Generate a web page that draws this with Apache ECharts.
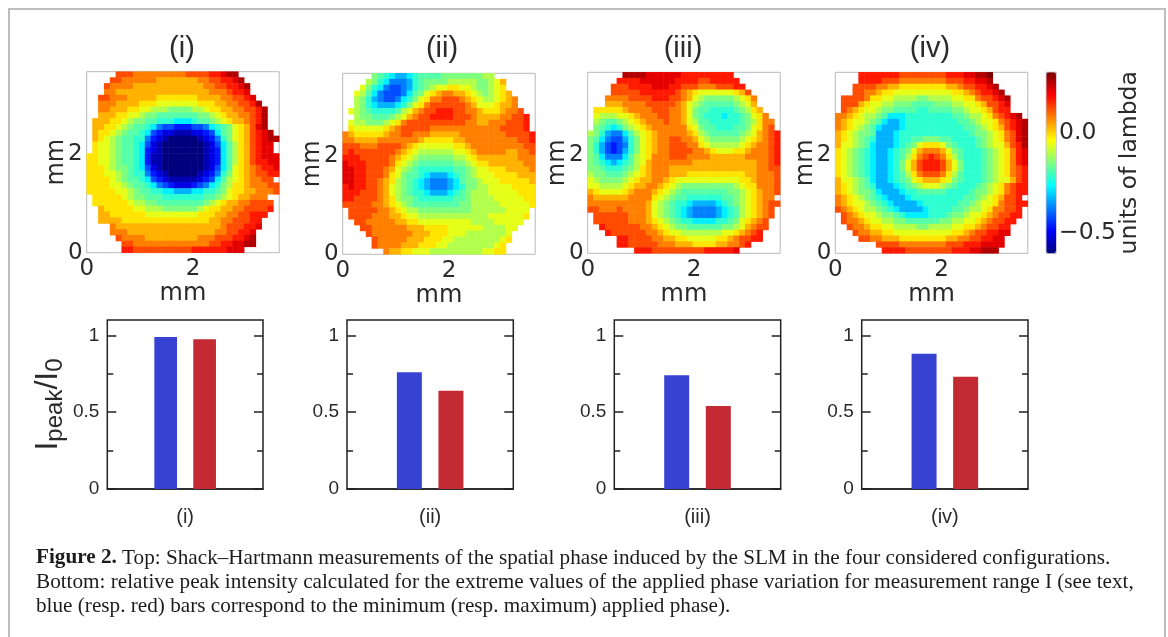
<!DOCTYPE html>
<html>
<head>
<meta charset="utf-8">
<script src="https://cdn.jsdelivr.net/npm/echarts@6/dist/echarts.min.js"></script>
<style>
html,body{margin:0;padding:0;background:#fff}
#c{width:1168px;height:637px;filter:blur(0.6px)}
</style>
</head>
<body>
<div id="c"></div>
<script>
// '.' = no measurement; 0-9,a-k = index into phaseLevels (top row first).
const phaseI = [
".....gggfffffffffgggghhijj.......",
"....ggffffffeeeeeeeffgghhij......",
"...gffffeeeeeeeeeeeeffgghhij.....",
"...ffeeeeeeeeeeeeeeeefffghhi.....",
"..ggfffeeeeedddddddeeeeffgghi....",
"..fffeeeedddcccccccdddeeffgghj...",
"..ffeeeddccbbbaaaabbcddeeffgghj..",
"..eeeddccbaa9999999aabcdeeffghj..",
".eeeddcbaa99888777899abcdeefghj..",
".eeddcba9987544333445789acdegij..",
".eddcba99874322111223479acdeghij.",
".edcba998853210000012358acdeghijj",
".dccba9987421000000012479bdeghii.",
".dccba9987321000000012379bdeghii.",
"ddccba9987311000000012379bdeghiii",
"ddccba9987311000000012379bdeghhii",
"dddcbaa987421000000012479cdefghhi",
"dddccba98853210000012358acdefgghh",
"ddddcba99874321111123479bcdeffgg.",
"ddddccba998754322234578abddefffgg",
"dddddccba99887766677889acddeefffg",
".dddddcbaa999888888899abcdeefff..",
".ddddddcbbaa99999999abcdeeffgggg.",
"..edddddccbbbaaaaaabcddeeffggggh.",
"..eeddddddcccccccccdddeeffgghhh..",
"..eeeedddddddddddddddeeffggghh...",
"....feeeeeeeeeeeeeeeeeefggghhi...",
"....fffeeeeeeeeeeeeeeeffgghhi....",
".....gffffeeeeeeeeefffggghhij....",
"......ggfffffffffffffgghhiijj....",
"......hhgggggggggghhhhhhiii......"];
const phaseII = [
".....a98766789999aaaaaaabb.......",
"....ba87555689aaaabbbbbaabce.....",
"...ca875445689abccddccbaabcd.....",
"..cb975444579acdeffeedcbabcde....",
"..ba86544578acdffgggfedcbbcdef...",
"..ba8766678acdfggggggfecccdeef...",
".cba988889bcefgghhhggffedddeffg..",
"..baa999abcefgghhhhgggfeeeeffggh.",
".cbbaaabcdfggggggggggffeefffgggh.",
".dcccccdefgggggffffffffffffggggh.",
"fedddddeffggfffeeeeeffffffffggggh",
"ffeeeefffffffedddddeefffffffffggh",
"gggfffggggfedccccccddefffffffffgg",
"ghgggggggfedcbbbbbbccdefffffeeffg",
"hhhgggggfedcbaaaaaabbcdeeeeeeefff",
"ihhhggggfdcba999999aabcddeeeeeeff",
"iihhgggfecba988888899abccdddeeeef",
"iihhgggfdca9987666789abcccddddeee",
"iihhggfedba9876555679aabcccddddde",
"hihhggfecba9876555678aabbccccdddd",
"hhhgggfecba9887666789abbbcccccddd",
"hhggggfedbaa988888899abbbbcccccdd",
"gggggffedcba99999999aabbbbbcccccd",
".gggggffedcbbaaaaaaaaabbbbbbcccc.",
".ggggfffeedccbbbbbbbbbbbbccccccd.",
"..ggfffffeeddcccccccccbbbbccccc..",
"...ggffffffeeeddddccccccbbbbcc...",
"....gfffffffeeedddcccbbbbbbbc....",
".....gfffffeeedddccbbbbbbbbcd....",
".....gffffeeedddccbbbbbbbbcd.....",
".......feeddcccbbbbbbbbbccdd....."];
const phaseIII = [
"......jjjjiiiiiihhhhhhhhh........",
".....hhhhiiiiiihhhhgghhhhh.......",
"....ggghhhhiiihhgggfffggghh......",
"....ggggghhhhhhgfedccccccdeg.....",
"...ffffgggghhhggfecbaaaaabcdf....",
"...eeeffffgggggfecba99999abce....",
".dddddeffffgggffeca9988889abde...",
".cbbbccdefffggffeca98887889acdf..",
".ba99abcdefffgffecb99888889abdff.",
".a9878abcdeffffffdca9988899acdfg.",
"ba865579bcdefffffedba99999abcefgh",
"a9754468acdeffggffecbaaaaabcdefgh",
"a8643458acdeffgggffdcbbbbbcdeffgh",
"a8643468acdeffggggffedcccddefffgh",
"a9755579bcdfffgggffffeeeeeeffffgh",
"a9876789bcefffffffeeeeeeeeeeeffgh",
"aa98889abdefffeeeeeeeeeeeeeeeffgg",
"baa999abcdefffeeeddddddddddeefffg",
"cbaaaabcdeeffedcccccccccccddefffg",
"ccbbbbcdeeffedcbaaaaaaaaabcddfffg",
"edccccdefffedcba99999999aabcdeffg",
"feeeeeeffffdcba9988888899abcdeff.",
"ffffffffffecba98876666789abcdefgg",
"ggfffgffffecba987655556789bcdefg.",
".ggggggfffecba987655556789bcdefg.",
".ggggggfffedcba9887777889acdefg..",
"..hggggggffedcbaa999999aabcefgg..",
"...hggggggffedccbbbbbbbccdefgh...",
".....hhggggffeeddcccccddefgghh...",
".....hhgggggfffeeeddddeeffgh.....",
"........hhhggggggggghhhhhi......."];
const phaseIV = [
"....hhhhhhhgggggggghhhiijjk......",
"....hhhhgggffffffffggghhiij......",
"...ggggffeeddddddddeefgghhij.....",
"...ggffeddccccccccccddefghhij....",
".ggggfddccbbbbaabbbbccddfgghij...",
".gggedccbbaaa9999aaabbccdegghi...",
".gfedccbaa9999889999aabccdeghh...",
"ffedcbba97778888888899abbcdfghij.",
"fedccba9766788888888899abccdfghij",
"fedcba976667888888888899abcdeghij",
"edcbaa966678888888888889aabcdfgij",
"edcba9866678899aaa9988889abcdfgij",
"eccba97666789acdddca98889abcceghj",
"dcba98766789acefffeca98889abcdfhi",
"dcba98766789bdfghgfdb98889abcdfhi",
"dcba9876678aceghhhgeca8889abcdfhi",
"dcba9876678aceghhhgeca8889abcdfgh",
"dcba98766789bdfgggfdb98889abcdfgh",
"eccba9766789acdeeedca98889abccegh",
"edcba98666789abcccba98889abcdfghh",
"edcbaa976667889999988889aabcdfghh",
"fedcba987666788888888899abcdeggh.",
"fedccba9876666788888899abccdfgghh",
"gfedcbba98766667888899abbcdffggh.",
".gfedccbaa9877778889aabccdefgghh.",
".gffedccbbaa999999aabbccdefgghh..",
"..gffeddccbbbbaabbbbccddefgghh...",
"...gffeeddccccccccccddefgghhii...",
"....ggffeeeddddddddeeffgghhii....",
".......ggggffffffffggghhhiiii....",
"........hhhhgggggggghhhiijjj....."];

// Phase value (units of lambda) for each level character 0-9,a-k
const phaseLevels = [-0.6,-0.555,-0.51,-0.465,-0.42,-0.375,-0.33,-0.276,-0.222,-0.186,-0.15,-0.105,-0.06,-0.015,0.03,0.075,0.12,0.165,0.21,0.255,0.3];

const panelNames = ["(i)", "(ii)", "(iii)", "(iv)"];
const barMinPhase = [0.99, 0.76, 0.74, 0.88];
const barMaxPhase = [0.975, 0.64, 0.54, 0.73];
const barCategories = ["", "min", "max", ""];
const barMajorTicks = [0, 0.5, 1];
const barMinorTicks = [0.25, 0.75];
const mmTicks = [0, 2];
const colorbarTicks = [-0.5, 0];
const caption = [
  "Top: Shack\u2013Hartmann measurements of the spatial phase induced by the SLM in the four considered configurations.",
  "Bottom: relative peak intensity calculated for the extreme values of the applied phase variation for measurement range I (see text,",
  "blue (resp. red) bars correspond to the minimum (resp. maximum) applied phase)."
];
const captionLead = "Figure 2.";

// Scale and layout
const phaseMin = -0.6, phaseMax = 0.3;
const jet = ["#00007f","#0000ff","#007fff","#00ffff","#7fff7f","#ffff00","#ff7f00","#ff0000","#7f0000"];
const phases = [phaseI, phaseII, phaseIII, phaseIV];
const heatBox = [[86.7,71.7],[342.7,73.3],[587.7,72.3],[835.3,72.3]];
const heatW = 192.5, heatH = 181;
const titleX = [182, 442, 683, 930];
const barBox = [[107.3,155.7,22.7],[347,166.3,25],[614.3,166.4,25],[861.7,166.3,25]];
const barTop = 320, barH = 169;
const mplFont = "DejaVu Sans", helv = "Liberation Sans";
const ink = "#2a2a2a";

const grid = [], xAxis = [], yAxis = [], series = [], title = [];

phases.forEach((rows, p) => {
  const g = grid.length;
  grid.push({left: heatBox[p][0], top: heatBox[p][1], width: heatW, height: heatH,
    show: true, borderColor: "#b9b9b9", borderWidth: 1, backgroundColor: "transparent"});
  const xi = xAxis.length, yi = yAxis.length;
  const nCols = rows[0].length;
  xAxis.push({type: "category", gridIndex: g, show: false, data: Array.from({length: nCols}, (_, i) => i)});
  yAxis.push({type: "category", gridIndex: g, show: false, inverse: true, data: rows.map((_, i) => i)});
  xAxis.push({type: "value", gridIndex: g, position: "bottom", min: 0, max: 3.62,
    splitLine: {show: false}, axisLine: {show: false}, axisTick: {show: false},
    axisLabel: {customValues: mmTicks, fontFamily: mplFont, fontSize: 23, color: ink, margin: 5},
    name: "mm", nameLocation: "middle", nameGap: 29, nameMoveOverlap: false,
    nameTextStyle: {fontFamily: mplFont, fontSize: 24, color: ink}});
  yAxis.push({type: "value", gridIndex: g, position: "left", min: 0, max: 3.68,
    splitLine: {show: false}, axisLine: {show: false}, axisTick: {show: false},
    axisLabel: {customValues: mmTicks, fontFamily: mplFont, fontSize: 23, color: ink, margin: 4, padding: [4, 0, 0, 0]},
    name: "mm", nameLocation: "middle", nameGap: 18, nameMoveOverlap: false,
    nameTextStyle: {fontFamily: mplFont, fontSize: 24, color: ink}});
  const data = [];
  rows.forEach((row, r) => row.split("").forEach((ch, c) => {
    if (ch !== ".") data.push([c, r, phaseLevels[parseInt(ch, 36)]]);
  }));
  series.push({type: "heatmap", name: panelNames[p], xAxisIndex: xi, yAxisIndex: yi, data, silent: true,
    itemStyle: {borderWidth: 0}, progressive: 0, animation: false});
  title.push({text: panelNames[p], left: titleX[p], top: 34, textAlign: "center", padding: 0,
    textStyle: {fontFamily: helv, fontSize: 29, fontWeight: "normal", color: ink}});
});

// Colour bar frame and axis
const cbGrid = grid.length;
grid.push({left: 1046.3, top: 72.3, width: 9.7, height: 181, show: true, borderColor: "#9a9ab0", borderWidth: 1, backgroundColor: "transparent"});
xAxis.push({type: "category", gridIndex: cbGrid, show: false, data: [""]});
yAxis.push({type: "value", gridIndex: cbGrid, position: "right", min: phaseMin, max: phaseMax,
  splitLine: {show: false}, axisLine: {show: false}, axisTick: {show: false},
  axisLabel: {customValues: colorbarTicks, fontFamily: mplFont, fontSize: 23.5, color: ink, margin: 3,
    formatter: v => (v < 0 ? "\u2212" : "") + Math.abs(v).toFixed(1)},
  name: "units of lambda", nameLocation: "middle", nameGap: 62, nameRotate: 90, nameMoveOverlap: false,
  nameTextStyle: {fontFamily: mplFont, fontSize: 23.5, color: ink}});

// Bars
barBox.forEach((b, p) => {
  const g = grid.length;
  grid.push({left: b[0], top: barTop, width: b[1], height: barH, show: true, borderColor: "#222", borderWidth: 1.5, backgroundColor: "transparent"});
  const xi = xAxis.length, yi = yAxis.length;
  xAxis.push({type: "category", gridIndex: g, data: barCategories, position: "bottom",
    axisLine: {show: true, lineStyle: {color: "#222", width: 1.5}}, axisTick: {show: false}, axisLabel: {show: false},
    name: panelNames[p], nameLocation: "middle", nameGap: 18, nameMoveOverlap: false,
    nameTextStyle: {fontFamily: helv, fontSize: 20, color: ink}});
  const tickLine = {color: "#222", width: 1.5};
  const base = {type: "value", gridIndex: g, min: 0, max: 1.1, splitLine: {show: false}, axisLine: {show: false}};
  yAxis.push(Object.assign({}, base, {position: "left",
    axisTick: {show: true, inside: true, length: 9, customValues: barMajorTicks, lineStyle: tickLine},
    axisLabel: {customValues: barMajorTicks, fontFamily: helv, fontSize: 19, color: ink, margin: 8},
    ...(p === 0 ? {
      name: "I{sub|peak}/I{sub|0}", nameLocation: "middle", nameGap: 40, nameRotate: 90, nameMoveOverlap: false,
      nameTextStyle: {fontFamily: helv, fontSize: 32, color: ink,
        rich: {sub: {fontFamily: helv, fontSize: 24, color: ink, padding: [14, 0, 0, 0]}}}
    } : {})}));
  yAxis.push(Object.assign({}, base, {position: "left", offset: 0,
    axisTick: {show: true, inside: true, length: 6, customValues: barMinorTicks, lineStyle: tickLine}, axisLabel: {show: false}}));
  yAxis.push(Object.assign({}, base, {position: "right", offset: 0,
    axisTick: {show: true, inside: true, length: 9, customValues: barMajorTicks, lineStyle: tickLine}, axisLabel: {show: false}}));
  yAxis.push(Object.assign({}, base, {position: "right", offset: 0,
    axisTick: {show: true, inside: true, length: 6, customValues: barMinorTicks, lineStyle: tickLine}, axisLabel: {show: false}}));
  series.push({type: "bar", name: panelNames[p], xAxisIndex: xi, yAxisIndex: yi, barWidth: b[2], silent: true, animation: false,
    data: [null,
      {value: barMinPhase[p], itemStyle: {color: "#3742d2"}},
      {value: barMaxPhase[p], itemStyle: {color: "#c32a33"}},
      null]});
});

const captionY = [558, 582, 606.5];
const graphic = [
  {type: "polyline", silent: true, shape: {points: [[9, 637], [9, 9], [1165, 9], [1165, 637]]},
    style: {fill: "none", stroke: "#bdbdbd", lineWidth: 2}},
  ...caption.map((line, i) => ({
    type: "text", silent: true, x: 36, y: captionY[i],
    style: {
      text: (i === 0 ? "{b|" + captionLead + "} " : "") + line,
      fontFamily: "Liberation Serif", fontSize: 21.2, fill: "#1c1c1c", verticalAlign: "middle",
      rich: {b: {fontFamily: "Liberation Serif", fontWeight: "bold", fontSize: 21.2, fill: "#1c1c1c"}}
    }
  }))
];

const chart = echarts.init(document.getElementById("c"), null, {renderer: "canvas"});
chart.setOption({
  animation: false,
  backgroundColor: "#fff",
  title, grid, xAxis, yAxis, series, graphic,
  tooltip: {show: false},
  visualMap: {
    type: "continuous", min: phaseMin, max: phaseMax, seriesIndex: [0, 1, 2, 3],
    left: 1046.3, top: 72.3, itemWidth: 9.7, itemHeight: 181, padding: 0,
    calculable: false, realtime: false, hoverLink: false, text: null, showLabel: false,
    inRange: {color: jet}
  }
});
</script>
</body>
</html>
